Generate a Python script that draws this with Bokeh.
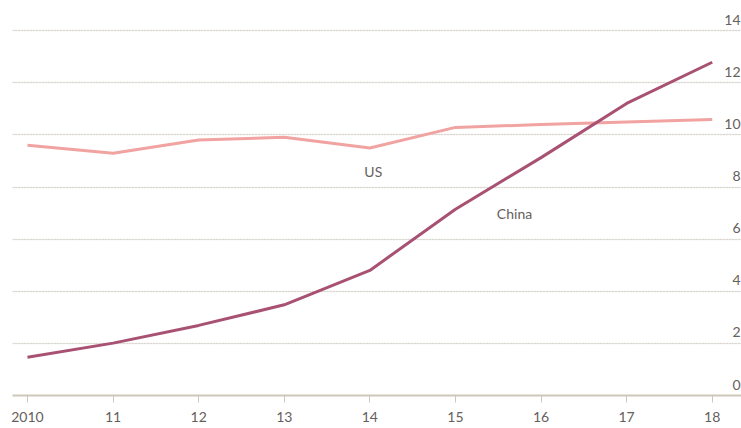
from bokeh.plotting import figure
from bokeh.models import FixedTicker, Grid, ColumnDataSource
from bokeh.core.properties import value
from bokeh.embed import file_html
from bokeh.resources import INLINE

years = [2010, 2011, 2012, 2013, 2014, 2015, 2016, 2017, 2018]
year_labels = ["2010", "11", "12", "13", "14", "15", "16", "17", "18"]
us = [9.60, 9.30, 9.81, 9.91, 9.50, 10.29, 10.40, 10.50, 10.59]
china = [1.47, 2.01, 2.69, 3.48, 4.80, 7.15, 9.13, 11.21, 12.79]
y_ticks = [0, 2, 4, 6, 8, 10, 12, 14]
y_labels = [str(v) for v in y_ticks]

FONT = "Lato"
TEXT = "#66605c"
AXIS = "#cec6b9"
GRID = "#d2cbbf"
US_COL = "#f0a3a1"
CN_COL = "#a85172"

x0, x1 = 2009.825, 2018.342
y0, y1 = 0, 15.16

p = figure(width=741, height=428, output_backend="svg", toolbar_location=None,
           x_range=(x0, x1), y_range=(y0, y1),
           min_border_left=12, min_border_right=0, min_border_top=0,
           min_border_bottom=33, y_axis_location=None)
p.outline_line_color = None
p.background_fill_color = "white"
p.border_fill_color = "white"
p.xgrid.visible = False

ax = p.xaxis[0]
ax.ticker = FixedTicker(ticks=years)
ax.major_label_overrides = {y: l for y, l in zip(years, year_labels)}
ax.axis_line_color = AXIS
ax.axis_line_width = 2
ax.major_tick_line_color = AXIS
ax.major_tick_line_width = 1
ax.major_tick_in = 0
ax.major_tick_out = 7
ax.minor_tick_line_color = None
ax.major_label_standoff = 9
ax.major_label_text_font = FONT
ax.major_label_text_font_size = "14px"
ax.major_label_text_color = TEXT

grid = Grid(dimension=1, ticker=FixedTicker(ticks=y_ticks[1:]),
            grid_line_color=GRID, grid_line_dash="1 2", grid_line_width=1.5)
p.add_layout(grid)

p.line(years, us, line_color=US_COL, line_width=3)
p.line(years, china, line_color=CN_COL, line_width=3)

ysrc = ColumnDataSource(dict(x=[x1] * len(y_ticks), y=y_ticks, t=y_labels))
p.text(x="x", y="y", text="t", source=ysrc, text_align="right",
       text_baseline="bottom", x_offset=-1, y_offset=-6,
       text_font=value(FONT), text_font_size="14px", text_color=TEXT)

p.text(x=[2014.04], y=[8.61], text=["US"], text_align="center",
       text_baseline="middle", text_font=value(FONT), text_font_size="14px",
       text_color=TEXT)
p.text(x=[2015.69], y=[6.99], text=["China"], text_align="center",
       text_baseline="middle", text_font=value(FONT), text_font_size="14px",
       text_color=TEXT)

open("out.html", "w").write(file_html(p, INLINE))
